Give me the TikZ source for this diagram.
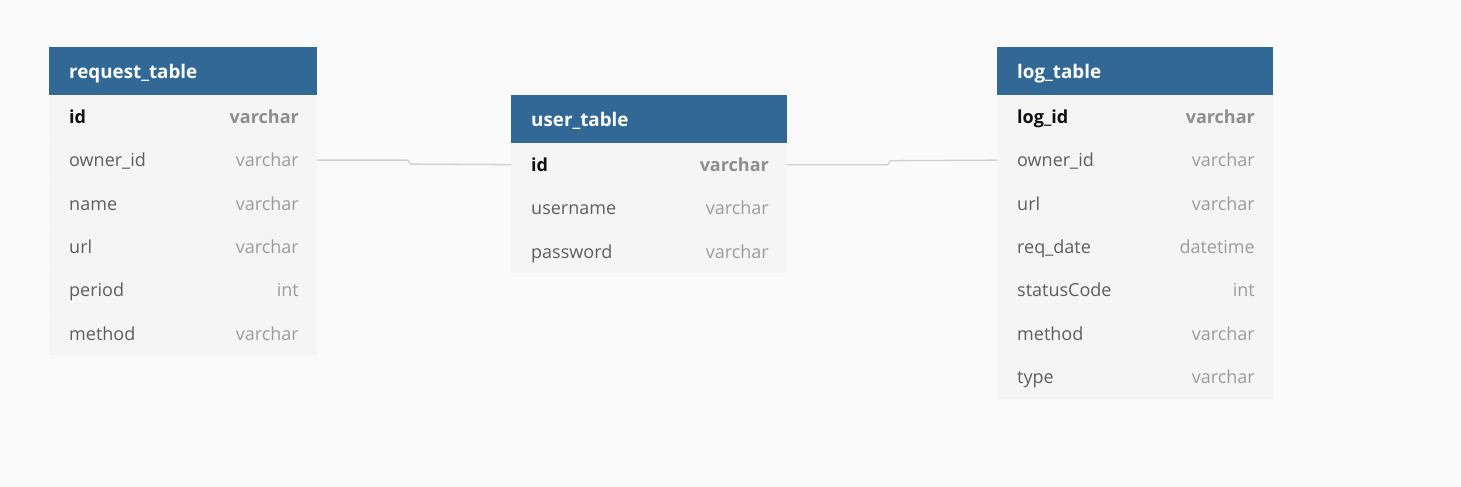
\documentclass[tikz,border=0pt]{standalone}
\usepackage{fontspec}
\setmainfont{Open Sans}
\definecolor{bg}{HTML}{FAFAFA}
\definecolor{hdr}{HTML}{316896}
\definecolor{rowbg}{HTML}{F5F5F5}
\definecolor{rowsep}{HTML}{F7F7F7}
\definecolor{namecol}{HTML}{5E5E5E}
\definecolor{pkcol}{HTML}{111111}
\definecolor{typecol}{HTML}{9C9C9C}
\definecolor{pktypecol}{HTML}{8E8E8E}
\definecolor{conncol}{HTML}{D0D0D0}
\newcommand\rowfont{\fontsize{18}{21}\selectfont}
\tikzset{
  hdrbox/.style={fill=hdr, draw=none, anchor=north west, minimum height=48pt, inner sep=0pt, outer sep=0pt},
  bodybox/.style={fill=rowbg, draw=none, anchor=north west, inner sep=0pt, outer sep=0pt},
  tabtitle/.style={anchor=base west, text=white, font=\fontsize{18.8}{21}\selectfont\bfseries, inner sep=0pt},
  fieldname/.style={anchor=base west, text=namecol, font=\rowfont, inner sep=0pt},
  pkname/.style={anchor=base west, text=pkcol, font=\rowfont\bfseries, inner sep=0pt},
  fieldtype/.style={anchor=base east, text=typecol, font=\rowfont, inner sep=0pt},
  pktype/.style={anchor=base east, text=pktypecol, font=\rowfont\bfseries, inner sep=0pt},
  sepline/.style={draw=rowsep, line width=0.8pt},
  connline/.style={draw=conncol, line width=1.3pt},
}
\begin{document}
\begin{tikzpicture}[x=1pt,y=-1pt]
\useasboundingbox (0,0) rectangle (1461,487);
\fill[bg] (0,0) rectangle (1461,487);

% ---------------- request_table ----------------
\node[hdrbox, minimum width=268pt] (reqh) at (49,47) {};
\node[tabtitle] (reqt) at (69,78.5) {request\_table};
\node[bodybox, minimum width=268pt, minimum height=260.4pt] (reqb) at (reqh.south west) {};
\foreach \i in {1,...,5} \draw[sepline] (49,{95+43.4*\i}) -- (317,{95+43.4*\i});
\foreach \f/\t [count=\i from 0] in {id/varchar, owner\_id/varchar, name/varchar, url/varchar, period/int, method/varchar} {
  \coordinate (req-r\i) at (49,{95+43.4*\i+21.7});
  \ifnum\i=0
    \node[pkname] (req-n\i) at (69,{95+43.4*\i+28.2}) {\f};
    \node[pktype] (req-t\i) at (299,{95+43.4*\i+28.2}) {\t};
  \else
    \node[fieldname] (req-n\i) at (69,{95+43.4*\i+28.2}) {\f};
    \node[fieldtype] (req-t\i) at (299,{95+43.4*\i+28.2}) {\t};
  \fi
}

% ---------------- user_table ----------------
\node[hdrbox, minimum width=276pt] (userh) at (511,95) {};
\node[tabtitle] (usert) at (531,126.5) {user\_table};
\node[bodybox, minimum width=276pt, minimum height=130.2pt] (userb) at (userh.south west) {};
\foreach \i in {1,2} \draw[sepline] (511,{143+43.4*\i}) -- (787,{143+43.4*\i});
\foreach \f/\t [count=\i from 0] in {id/varchar, username/varchar, password/varchar} {
  \coordinate (user-r\i) at (511,{143+43.4*\i+21.7});
  \ifnum\i=0
    \node[pkname] (user-n\i) at (531,{143+43.4*\i+28.2}) {\f};
    \node[pktype] (user-t\i) at (769,{143+43.4*\i+28.2}) {\t};
  \else
    \node[fieldname] (user-n\i) at (531,{143+43.4*\i+28.2}) {\f};
    \node[fieldtype] (user-t\i) at (769,{143+43.4*\i+28.2}) {\t};
  \fi
}

% ---------------- log_table ----------------
\node[hdrbox, minimum width=276pt] (logh) at (997,47) {};
\node[tabtitle] (logt) at (1017,78.5) {log\_table};
\node[bodybox, minimum width=276pt, minimum height=303.8pt] (logb) at (logh.south west) {};
\foreach \i in {1,...,6} \draw[sepline] (997,{95+43.4*\i}) -- (1273,{95+43.4*\i});
\foreach \f/\t [count=\i from 0] in {log\_id/varchar, owner\_id/varchar, url/varchar, req\_date/datetime, statusCode/int, method/varchar, type/varchar} {
  \coordinate (log-r\i) at (997,{95+43.4*\i+21.7});
  \ifnum\i=0
    \node[pkname] (log-n\i) at (1017,{95+43.4*\i+28.2}) {\f};
    \node[pktype] (log-t\i) at (1255,{95+43.4*\i+28.2}) {\t};
  \else
    \node[fieldname] (log-n\i) at (1017,{95+43.4*\i+28.2}) {\f};
    \node[fieldtype] (log-t\i) at (1255,{95+43.4*\i+28.2}) {\t};
  \fi
}

% ---------------- connectors ----------------
\draw[connline] (reqb.east |- req-r1) -- ++(90,0)
   .. controls +(2,0) and +(-2,0) .. ++(4,4) -- (userb.west |- user-r0);
\draw[connline] (userb.east |- user-r0) -- ++(100,0)
   .. controls +(2,0) and +(-2,0) .. ++(4,-4) -- (logb.west |- log-r1);
\end{tikzpicture}
\end{document}
